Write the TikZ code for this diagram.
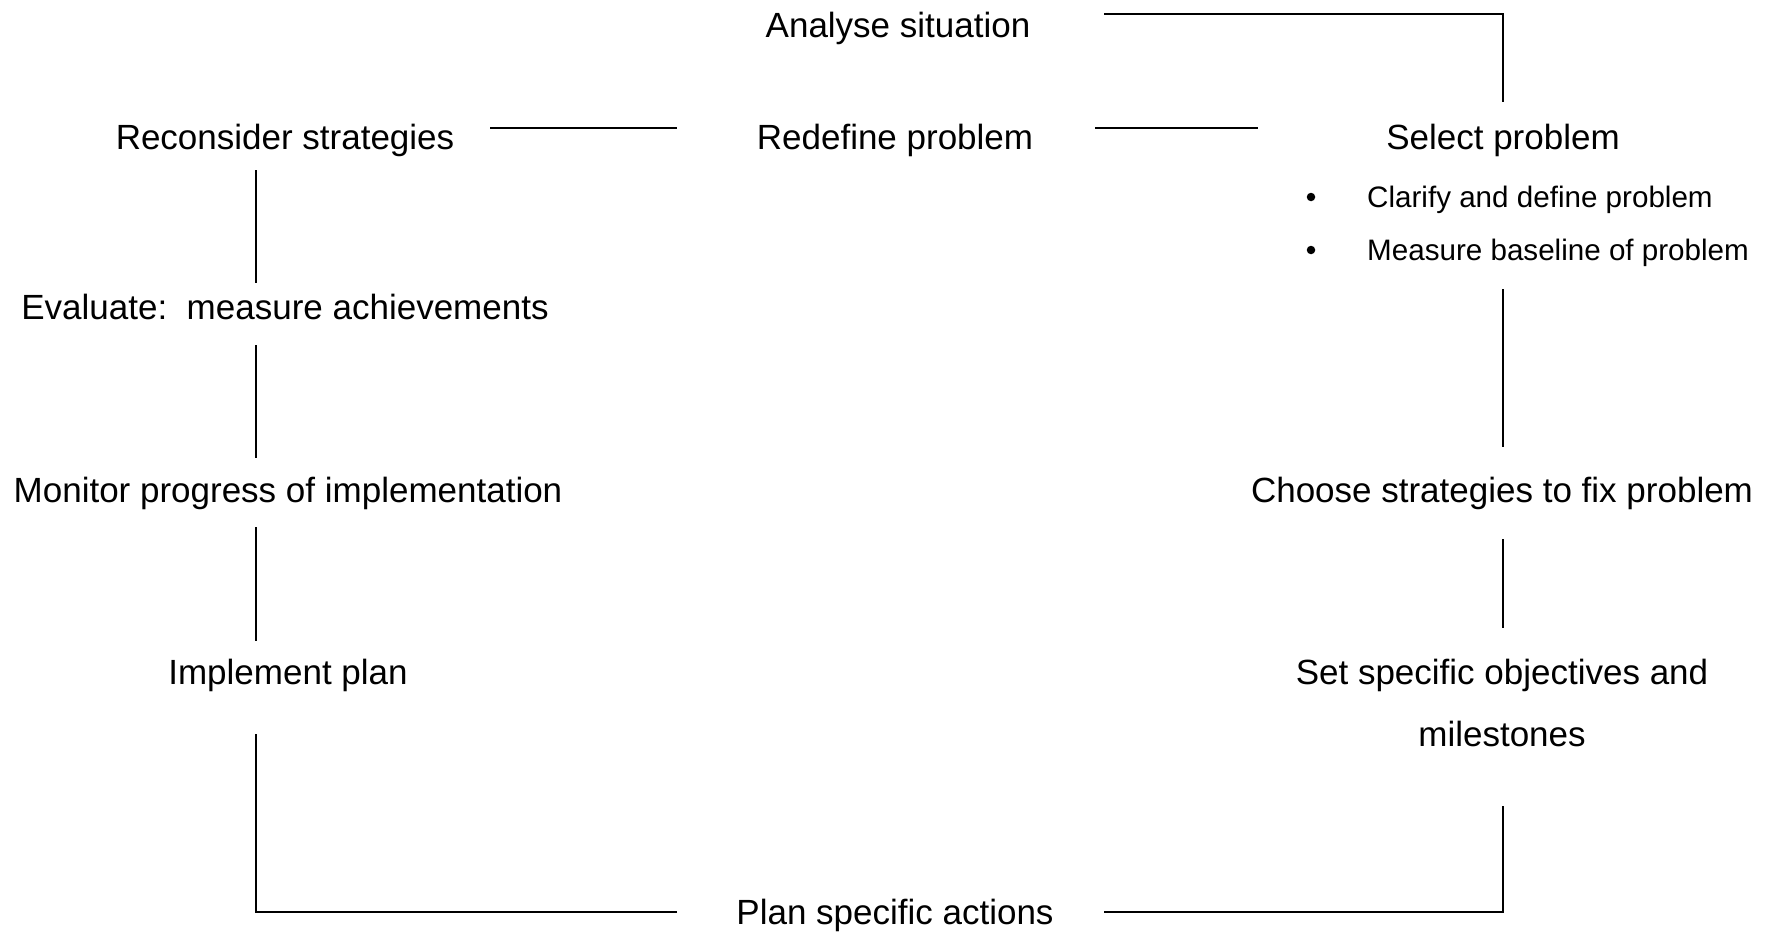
\documentclass[tikz,border=0pt]{standalone}
\usepackage{fontspec}
\setmainfont{Liberation Sans}
\begin{document}
\begin{tikzpicture}[x=1pt,y=-1pt,
  lbl/.style={inner sep=0pt, anchor=base, font=\fontsize{35}{42}\selectfont},
  sub/.style={inner sep=0pt, anchor=base west, font=\fontsize{29.6}{34}\selectfont},
  bul/.style={circle, fill=black, inner sep=0pt, minimum size=8.5pt},
  ln/.style={line width=2pt}]
\useasboundingbox (0,0) rectangle (1775,940);
% labels
\node[lbl] (analyse) at (898,37) {Analyse situation};
\node[lbl] (recon) at (285,149) {Reconsider strategies};
\node[lbl] (redef) at (895,149) {Redefine problem};
\node[lbl] (select) at (1503,149) {Select problem};
\node[bul] (b1) at (1311,197) {};
\node[sub] (s1) at (1367,207) {Clarify and define problem};
\node[bul] (b2) at (1311,250) {};
\node[sub] (s2) at (1367,260) {Measure baseline of problem};
\node[lbl] (eval) at (285,319) {Evaluate:\ \ measure achievements};
\node[lbl] (monitor) at (288,502) {Monitor progress of implementation};
\node[lbl] (choose) at (1502,502) {Choose strategies to fix problem};
\node[lbl] (impl) at (288,684) {Implement plan};
\node[lbl] (setobj) at (1502,684) {Set specific objectives and};
\node[lbl] (miles) at (1502,746) {milestones};
\node[lbl] (plan) at (895,924) {Plan specific actions};
% connector end points
\coordinate (t1) at (1104,14);
\coordinate (t3) at (1503,102);
\coordinate (r1a) at (490,128);
\coordinate (r1b) at (677,128);
\coordinate (r2a) at (1095,128);
\coordinate (r2b) at (1258,128);
\coordinate (ra1) at (1503,289);
\coordinate (ra2) at (1503,447);
\coordinate (rb1) at (1503,539);
\coordinate (rb2) at (1503,628);
\coordinate (rc1) at (1503,806);
\coordinate (rc2) at (1104,912);
\coordinate (la1) at (677,912);
\coordinate (la2) at (256,734);
\coordinate (lb1) at (256,527);
\coordinate (lb2) at (256,641);
\coordinate (lc1) at (256,345);
\coordinate (lc2) at (256,458);
\coordinate (ld1) at (256,170);
\coordinate (ld2) at (256,283);
% connectors
\draw[ln] (t1) -| (t3);
\draw[ln] (r1a) -- (r1b);
\draw[ln] (r2a) -- (r2b);
\draw[ln] (ra1) -- (ra2);
\draw[ln] (rb1) -- (rb2);
\draw[ln] (rc1) |- (rc2);
\draw[ln] (la1) -| (la2);
\draw[ln] (lb1) -- (lb2);
\draw[ln] (lc1) -- (lc2);
\draw[ln] (ld1) -- (ld2);
\end{tikzpicture}
\end{document}
